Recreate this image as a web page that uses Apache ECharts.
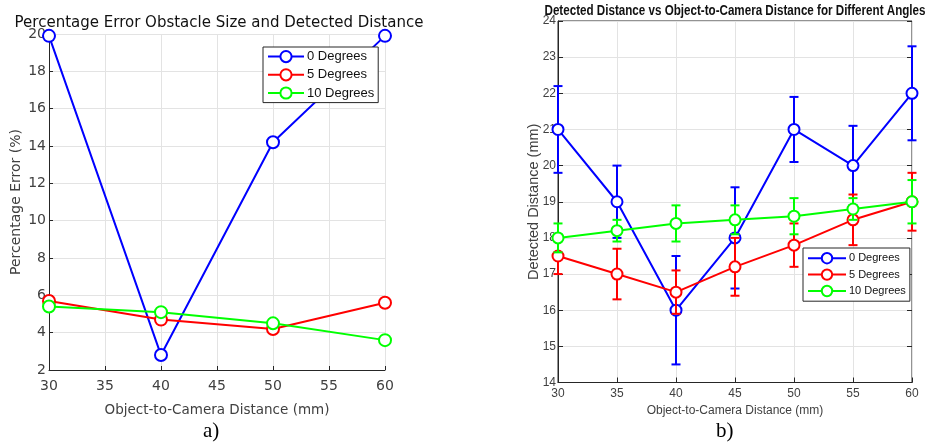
<!DOCTYPE html>
<html>
<head>
<meta charset="utf-8">
<script src="https://cdn.jsdelivr.net/npm/echarts@6/dist/echarts.min.js"></script>
<style>html,body{margin:0;padding:0;background:#fff;}#c{width:926px;height:448px;}</style>
</head>
<body>
<div id="c"></div>
<script>
// ---- Data: left chart (percentage error) ----
const xLeft = [30, 40, 50, 60];
const pctErr0 = [19.9, 2.8, 14.2, 19.9];
const pctErr5 = [5.7, 4.7, 4.2, 5.6];
const pctErr10 = [5.4, 5.1, 4.5, 3.6];

// ---- Data: right chart (detected distance with error bars) ----
const xRight = [30, 35, 40, 45, 50, 55, 60];
const dist0 = [21, 19, 16, 18, 21, 20, 22];
const dist0Err = [1.2, 1.0, 1.5, 1.4, 0.9, 1.1, 1.3];
const dist5 = [17.5, 17.0, 16.5, 17.2, 17.8, 18.5, 19.0];
const dist5Err = [0.5, 0.7, 0.6, 0.8, 0.6, 0.7, 0.8];
const dist10 = [18.0, 18.2, 18.4, 18.5, 18.6, 18.8, 19.0];
const dist10Err = [0.4, 0.3, 0.5, 0.4, 0.5, 0.3, 0.6];

const seriesNames = ['0 Degrees', '5 Degrees', '10 Degrees'];
const colors = ['#0000ff', '#ff0000', '#00ff00'];

const leftTitle = 'Percentage Error Obstacle Size and Detected Distance';
const rightTitle = 'Detected Distance vs Object-to-Camera Distance for Different Angles';
const xName = 'Object-to-Camera Distance (mm)';
const yNameLeft = 'Percentage Error (%)';
const yNameRight = 'Detected Distance (mm)';

const SANS = "'DejaVu Sans', sans-serif";
const LIB = "'Liberation Sans', Arial, sans-serif";

function zip(xs, ys) { return xs.map((x, i) => [x, ys[i]]); }
function errData(xs, ys, es) { return xs.map((x, i) => [x, ys[i] - es[i], ys[i] + es[i]]); }

function errRender(color) {
  return function (params, api) {
    const x = api.value(0), lo = api.value(1), hi = api.value(2);
    const p1 = api.coord([x, lo]), p2 = api.coord([x, hi]);
    const w = 4.5;
    const st = { stroke: color, lineWidth: 2 };
    return {
      type: 'group',
      children: [
        { type: 'line', shape: { x1: p1[0], y1: p1[1], x2: p2[0], y2: p2[1] }, style: st },
        { type: 'line', shape: { x1: p1[0] - w, y1: p1[1], x2: p1[0] + w, y2: p1[1] }, style: st },
        { type: 'line', shape: { x1: p2[0] - w, y1: p2[1], x2: p2[0] + w, y2: p2[1] }, style: st }
      ]
    };
  };
}

const leftVals = [pctErr0, pctErr5, pctErr10];
const rightVals = [dist0, dist5, dist10];
const rightErrs = [dist0Err, dist5Err, dist10Err];

const series = [];
leftVals.forEach((vals, i) => {
  series.push({
    name: seriesNames[i], type: 'line', xAxisIndex: 0, yAxisIndex: 0,
    data: zip(xLeft, vals), symbol: 'emptyCircle', symbolSize: 12, clip: false,
    lineStyle: { color: colors[i], width: 2 },
    itemStyle: { color: colors[i], borderColor: colors[i], borderWidth: 1.5 },
    emphasis: { disabled: true }, animation: false
  });
});
rightVals.forEach((vals, i) => {
  series.push({
    name: seriesNames[i] + ' err', type: 'custom', xAxisIndex: 1, yAxisIndex: 1,
    data: errData(xRight, vals, rightErrs[i]), renderItem: errRender(colors[i]),
    encode: { x: 0, y: [1, 2] }, z: 2 + i, animation: false, silent: true
  });
  series.push({
    name: 'R ' + seriesNames[i], type: 'line', xAxisIndex: 1, yAxisIndex: 1,
    data: zip(xRight, vals), symbol: 'emptyCircle', symbolSize: 11, clip: false,
    lineStyle: { color: colors[i], width: 2 },
    itemStyle: { color: colors[i], borderColor: colors[i], borderWidth: 2 },
    z: 2 + i, emphasis: { disabled: true }, animation: false
  });
});

const gridLineColor = '#e3e3e3';
const axisColor = '#262626';
const labelColor = '#404040';

const option = {
  backgroundColor: '#fff',
  animation: false,
  title: [
    { text: leftTitle, left: 214, top: 11, textAlign: 'center',
      textStyle: { fontFamily: SANS, fontSize: 15, fontWeight: 'normal', color: '#111' } }
  ],
  legend: [
    { data: seriesNames, left: 263, top: 47, orient: 'vertical', itemGap: 5, itemWidth: 36, itemHeight: 14,
      padding: [3, 4, 3, 4], borderColor: axisColor, borderWidth: 1, backgroundColor: '#fff',
      selectedMode: false, textStyle: { fontFamily: LIB, fontSize: 13, color: '#111', padding: [0, 0, 0, -2] } },
    { data: seriesNames.map(n => 'R ' + n), left: 803, top: 248, orient: 'vertical', itemGap: 4, itemWidth: 38, itemHeight: 13,
      padding: [4, 4, 4, 4], borderColor: axisColor, borderWidth: 1, backgroundColor: '#fff',
      selectedMode: false, formatter: n => n.slice(2),
      textStyle: { fontFamily: LIB, fontSize: 11, color: '#111', padding: [0, 0, 0, -2] } }
  ],
  grid: [
    { left: 49, top: 34, width: 336, height: 336 },
    { left: 558, top: 21, width: 354, height: 361.5, show: true, borderColor: axisColor, borderWidth: 1 }
  ],
  xAxis: [
    { gridIndex: 0, type: 'value', min: 30, max: 60, interval: 5,
      name: xName, nameLocation: 'middle', nameGap: 33, nameMoveOverlap: false,
      nameTextStyle: { fontFamily: SANS, fontSize: 13.5, color: labelColor },
      axisLine: { show: true, lineStyle: { color: axisColor } },
      axisTick: { show: true, inside: true, length: 4, lineStyle: { color: axisColor } },
      axisLabel: { fontFamily: SANS, fontSize: 14, color: labelColor, margin: 9 },
      splitLine: { show: true, lineStyle: { color: gridLineColor } } },
    { gridIndex: 1, type: 'value', min: 30, max: 60, interval: 5,
      name: xName, nameLocation: 'middle', nameGap: 22, nameMoveOverlap: false,
      nameTextStyle: { fontFamily: LIB, fontSize: 12, color: labelColor },
      axisLine: { show: true, lineStyle: { color: axisColor } },
      axisTick: { show: true, inside: true, length: 5, lineStyle: { color: axisColor } },
      axisLabel: { fontFamily: LIB, fontSize: 12, color: labelColor, margin: 5 },
      splitLine: { show: true, lineStyle: { color: gridLineColor } } }
  ],
  yAxis: [
    { gridIndex: 0, type: 'value', min: 2, max: 20, interval: 2,
      name: yNameLeft, nameLocation: 'middle', nameGap: 26, nameRotate: 90,
      nameTextStyle: { fontFamily: SANS, fontSize: 14, color: labelColor },
      axisLine: { show: true, lineStyle: { color: axisColor } },
      axisTick: { show: true, inside: true, length: 4, lineStyle: { color: axisColor } },
      axisLabel: { fontFamily: SANS, fontSize: 14, color: labelColor, margin: 3 },
      splitLine: { show: true, lineStyle: { color: gridLineColor } } },
    { gridIndex: 1, type: 'value', min: 14, max: 24, interval: 1,
      name: yNameRight, nameLocation: 'middle', nameGap: 17, nameRotate: 90, nameMoveOverlap: false,
      nameTextStyle: { fontFamily: LIB, fontSize: 14.5, color: labelColor },
      axisLine: { show: true, lineStyle: { color: axisColor } },
      axisTick: { show: true, inside: true, length: 5, lineStyle: { color: axisColor } },
      axisLabel: { fontFamily: LIB, fontSize: 12, color: labelColor, margin: 2 },
      splitLine: { show: true, lineStyle: { color: gridLineColor } } },
    { gridIndex: 1, type: 'value', min: 14, max: 24, interval: 1, position: 'right',
      axisLine: { show: false }, axisLabel: { show: false }, splitLine: { show: false },
      axisTick: { show: true, inside: true, length: 5, lineStyle: { color: axisColor } } }
  ],
  graphic: [
    { type: 'text', x: 735, y: 11, scaleX: 0.83, silent: true,
      style: { text: rightTitle, font: "bold 14px 'Liberation Sans', Arial, sans-serif", fill: '#111',
               textAlign: 'center', textVerticalAlign: 'middle' } },
    { type: 'text', left: 203, top: 421, style: { text: 'a)', font: "21px 'Liberation Serif', serif", fill: '#000' } },
    { type: 'text', left: 716, top: 421, style: { text: 'b)', font: "21px 'Liberation Serif', serif", fill: '#000' } }
  ],
  series: series
};

const chart = echarts.init(document.getElementById('c'), null, { renderer: 'canvas' });
chart.setOption(option);
</script>
</body>
</html>
